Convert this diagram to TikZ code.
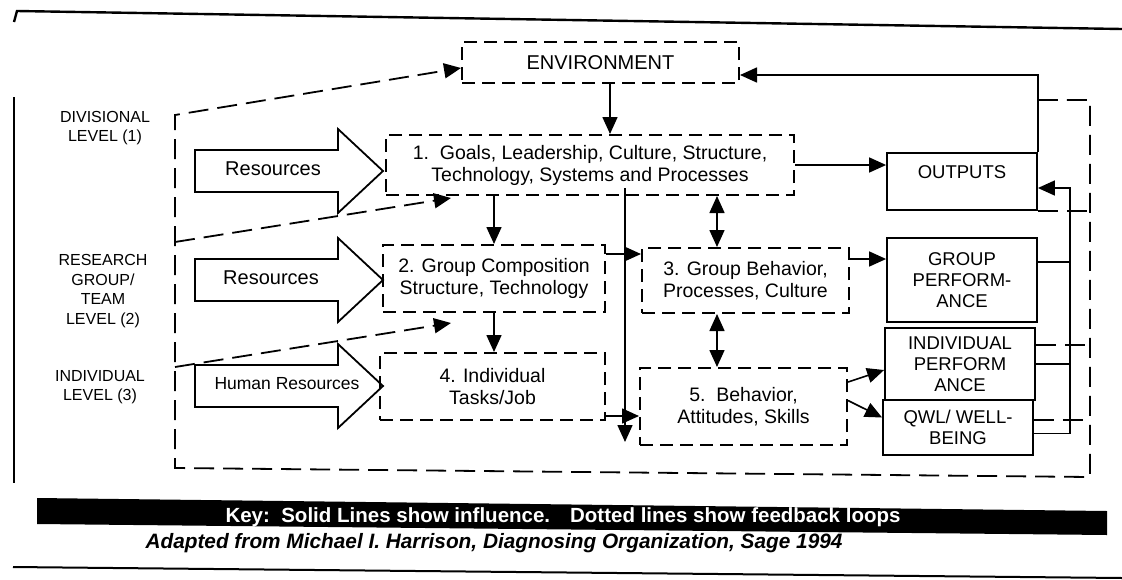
\documentclass[tikz,border=0pt]{standalone}
\usepackage{fontspec}
\setmainfont{Liberation Sans}
\usetikzlibrary{arrows.meta,calc}
\tikzset{
 dbox/.style={draw, line width=2pt, dash pattern=on 13pt off 7pt, align=center, inner sep=0pt, font=\fontsize{19.5}{22}\selectfont},
 outbox/.style={draw, line width=1.8pt, align=center, inner sep=0pt, font=\fontsize{18.5}{21}\selectfont},
 lvl/.style={align=center, font=\fontsize{16}{19.5}\selectfont},
 infl/.style={line width=1.6pt, -{Triangle[length=17pt,width=15pt]}},
 dblarr/.style={line width=1.6pt, {Triangle[length=17pt,width=15pt]}-{Triangle[length=17pt,width=15pt]}},
 fback/.style={line width=1.8pt, dash pattern=on 20pt off 9pt},
 fbarr/.style={fback, -{Triangle[length=17pt,width=15pt]}},
 bigarrow/.style={draw, line width=1.8pt, fill=white, line join=miter},
}
\begin{document}
\begin{tikzpicture}[x=1pt,y=-1pt]
 \fill[white] (0,0) rectangle (1122,579);
 \useasboundingbox (0,0) rectangle (1122,579);
 \draw[line width=2.4pt] (14,22) -- (17,11) -- (1122,29);
 \draw[line width=2pt] (14,97) -- (14,483);
 \draw[line width=2pt] (13,567) -- (1122,578);

 \node[lvl] (div) at (105,128) {DIVISIONAL\\LEVEL (1)};
 \node[lvl] (team) at (103,291) {RESEARCH\\GROUP/\\TEAM\\LEVEL (2)};
 \node[lvl] (indiv) at (100,387) {INDIVIDUAL\\LEVEL (3)};

 \foreach \n/\y/\t/\tx/\fs in {resa/171/Resources/273/20, resb/280/Resources/271/20, hres/386/Human Resources/287/17.5}{
   \draw[bigarrow] (195,\y-21) -- (338,\y-21) -- (338,\y-42) -- (383,\y) -- (338,\y+42) -- (338,\y+21) -- (195,\y+21) -- cycle;
   \node[font=\fontsize{\fs}{20}\selectfont] (\n) at (\tx,\y-2) {\t};
 }

 \node[dbox, minimum width=277pt, minimum height=41pt, font=\fontsize{20}{22}\selectfont] (env) at (600.5,62.5) {ENVIRONMENT};
 \node[dbox, minimum width=408pt, minimum height=60pt] (goals) at (590,165) {1.\ \ Goals, Leadership, Culture, Structure,\\Technology, Systems and Processes};
 \node[dbox, minimum width=222pt, minimum height=67pt] (comp) at (494,278.5) {2. Group Composition\\Structure, Technology};
 \node[dbox, minimum width=225pt, minimum height=67pt] (tasks) at (492.5,386.5) {4. Individual\\Tasks/Job};
 \node[dbox, minimum width=207pt, minimum height=65pt] (behav) at (745.5,280.5) {3. Group Behavior,\\Processes, Culture};
 \node[dbox, minimum width=207pt, minimum height=77pt] (skills) at (743.5,406.5) {5.\ \ Behavior,\\Attitudes, Skills};

 \node[outbox, minimum width=150pt, minimum height=57pt] (outputs) at (962,181.5) {};
 \node[font=\fontsize{18.5}{21}\selectfont] (outtxt) at (962,172) {OUTPUTS};
 \node[outbox, minimum width=150pt, minimum height=84pt] (groupperf) at (962,280) {GROUP\\PERFORM-\\ANCE};
 \node[outbox, minimum width=150pt, minimum height=72pt] (indperf) at (960,364) {INDIVIDUAL\\PERFORM\\ANCE};
 \node[outbox, minimum width=150pt, minimum height=55pt] (qwl) at (958,427.5) {QWL/ WELL-\\BEING};

 \coordinate (envdrop) at (610,0);
 \coordinate (mid) at (717,0);
 \coordinate (drop) at (625,442);
 \coordinate (bus) at (1070,188);
 \coordinate (fb) at (1090,100);
 \coordinate (fbr) at (1090,477);
 \coordinate (fbl) at (175,468);
 \coordinate (fbt) at (175,115);
 \coordinate (fla) at (175,242);
 \coordinate (flb) at (175,367);

 \draw[infl] (env.south -| envdrop) -- (goals.north -| envdrop);
 \draw[infl] (goals.south -| comp.north) -- (comp.north);
 \draw[infl] (comp.south) -- (tasks.north -| comp.south);
 \draw[infl] (goals.east) -- (goals.east -| outputs.west);
 \draw[infl] (outputs.north east) |- ($(env.east)+(0,12.5)$);
 \draw[infl] ($(goals.south -| drop)+(0,-8)$) -- (drop);
 \draw[infl] ($(comp.north east)+(0,10)$) coordinate (cb) -- (cb -| behav.west);
 \draw[infl] ($(tasks.south east)+(0,-5)$) coordinate (ts) -- (ts -| skills.west);
 \draw[dblarr] (goals.south -| mid) -- (behav.north -| mid);
 \draw[dblarr] (behav.south -| mid) -- (skills.north -| mid);
 \draw[infl] ($(behav.north east)+(0,12)$) coordinate (bg) -- (bg -| groupperf.west);
 \draw[infl] ($(skills.north east)+(0,15)$) -- ($(indperf.west)+(0,6)$);
 \draw[infl] ($(skills.east)+(0,-6)$) -- ($(qwl.west)+(0,-10)$);

 \draw[infl] ($(qwl.east)+(0,6)$) -| (bus) -- (bus -| outputs.east);
 \draw[line width=1.6pt] ($(groupperf.east)+(0,-18)$) coordinate (gb) -- (gb -| bus);
 \draw[line width=1.6pt] (indperf.east) -- (indperf.east -| bus);

 \draw[fback] (outputs.south east) -- (outputs.south east -| fb);
 \draw[fback] ($(indperf.east)+(0,-19)$) coordinate (ib) -- (ib -| fb);
 \draw[fback] ($(qwl.east)+(0,-7.5)$) coordinate (qb) -- (qb -| fb);
 \draw[fbarr] (outputs.east |- fb) -- (fb) -- (fbr) -- (fbl) -- (fbt) -- ($(env.west)+(0,5.5)$);
 \draw[fbarr] (fla) -- ($(goals.south west)+(66,2)$);
 \draw[fbarr] (flb) -- ($(comp.south west)+(69,10)$);

 \fill (37,498) -- (1107,511) -- (1107,535) -- (37,524) -- cycle;
 \node[text=white, inner sep=0pt, font=\bfseries\fontsize{20.5}{22}\selectfont] (key) at (563,517) {Key:\ \ Solid Lines show influence.\hspace{20pt}Dotted lines show feedback loops};
 \node[inner sep=0pt, font=\bfseries\itshape\fontsize{20.8}{22}\selectfont] (src) at (494,543) {Adapted from Michael I. Harrison, Diagnosing Organization, Sage 1994};
\end{tikzpicture}
\end{document}
